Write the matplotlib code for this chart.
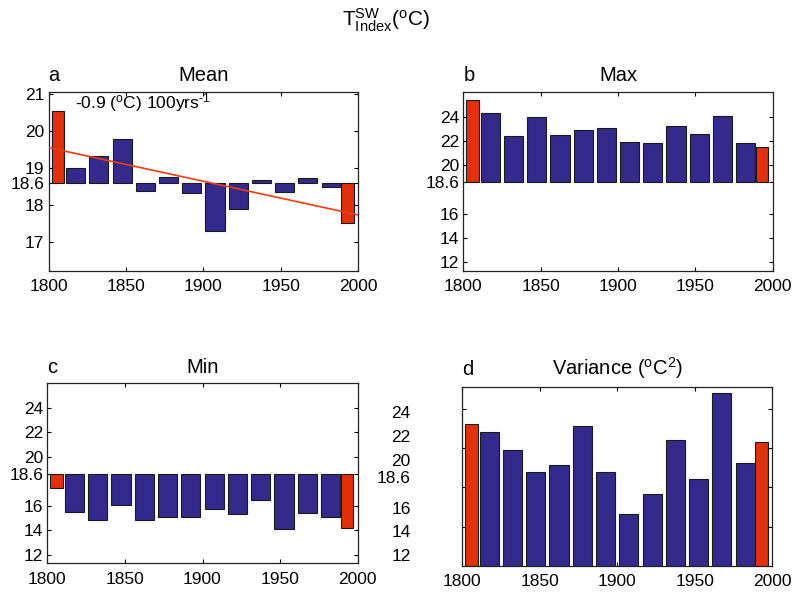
import matplotlib
matplotlib.use("Agg")
import matplotlib.pyplot as plt

plt.rcParams['font.family'] = ['Liberation Sans', 'DejaVu Sans']
plt.rcParams['mathtext.fontset'] = 'custom'
plt.rcParams['mathtext.rm'] = 'Liberation Sans'
plt.rcParams['mathtext.it'] = 'Liberation Sans:italic'
plt.rcParams['mathtext.bf'] = 'Liberation Sans:bold'

# ---- data ----
blue_years = [1817.5, 1832.5, 1847.5, 1862.5, 1877.5, 1892.5,
              1907.5, 1922.5, 1937.5, 1952.5, 1967.5, 1982.5]
red_years = [1806, 1993]

mean_blue = [19.00, 19.33, 19.78, 18.36, 18.75, 18.33,
             17.28, 17.88, 18.66, 18.35, 18.72, 18.49]
mean_red = [20.53, 17.51]

max_blue = [24.30, 22.38, 23.94, 22.52, 22.87, 23.10,
            21.90, 21.84, 23.23, 22.58, 24.05, 21.84]
max_red = [25.37, 21.51]

min_blue = [15.48, 14.83, 16.08, 14.80, 15.10, 15.10,
            15.73, 15.29, 16.46, 14.07, 15.42, 15.05]
min_red = [17.44, 14.15]

var_blue = [3.41, 2.95, 2.39, 2.56, 3.55, 2.39,
            1.31, 1.83, 3.20, 2.20, 4.39, 2.61]
var_red = [3.61, 3.16]

baseline = 18.6
trend_start_year = 1800
trend_end_year = 2000
trend_start_value = 19.55
trend_slope_per_year = -0.00915

temp_ticks = [12, 14, 16, 18.6, 20, 22, 24]
temp_ticklabels = ['12', '14', '16', '18.6', '20', '22', '24']
mean_ticks = [17, 18, 18.6, 19, 20, 21]
mean_ticklabels = ['17', '18', '18.6', '19', '20', '21']
var_ticks = [1, 2, 3, 4]
x_ticks = [1800, 1850, 1900, 1950, 2000]

BLUE = '#332a8c'
RED = '#e0300c'
EDGE = '#1a1a1a'
W, H = 798, 594
TICK_FS = 12.5
TITLE_FS = 14.5

fig = plt.figure(figsize=(W / 100, H / 100), dpi=100)


def make_ax(left, top, right, bottom):
    return fig.add_axes([left / W, 1 - bottom / H, (right - left) / W, (bottom - top) / H])


def style(ax, ylim, yticks, ylabels):
    ax.set_xlim(1800, 2000)
    ax.set_ylim(*ylim)
    ax.set_xticks(x_ticks)
    ax.set_xticklabels([str(t) for t in x_ticks])
    ax.set_yticks(yticks)
    if ylabels is None:
        ax.set_yticklabels([])
    else:
        ax.set_yticklabels(ylabels)
    ax.tick_params(direction='in', length=3, width=0.8, labelsize=TICK_FS,
                   top=True, right=True)
    ax.tick_params(axis='x', pad=6)
    ax.tick_params(axis='y', pad=3)
    for s in ax.spines.values():
        s.set_linewidth(0.9)
        s.set_color('#222222')


def bars(ax, blue, red, bottom):
    ax.bar(blue_years, [v - bottom for v in blue], width=12.3, bottom=bottom,
           color=BLUE, edgecolor=EDGE, linewidth=0.8, zorder=2)
    ax.bar(red_years, [v - bottom for v in red], width=8, bottom=bottom,
           color=RED, edgecolor=EDGE, linewidth=0.8, zorder=2)


def titles(ax, letter, title, y=1.065):
    ax.text(0.0, y, letter, transform=ax.transAxes, fontsize=TITLE_FS,
            ha='left', va='baseline')
    ax.text(0.5, y, title, transform=ax.transAxes, fontsize=TITLE_FS,
            ha='center', va='baseline')


# panel a
axa = make_ax(48.5, 92.3, 358.3, 271)
bars(axa, mean_blue, mean_red, baseline)
tx = [trend_start_year, trend_end_year]
ty = [trend_start_value, trend_start_value + trend_slope_per_year * (trend_end_year - trend_start_year)]
axa.plot(tx, ty, color='#f03a12', lw=1.2, zorder=3)
style(axa, (16.2, 21.05), mean_ticks, mean_ticklabels)
titles(axa, 'a', 'Mean')
axa.text(0.0855, 0.94, r'-0.9 ($^{\rm o}$C) 100yrs$^{\text{-1}}$', transform=axa.transAxes,
         fontsize=12.5, ha='left', va='center')

# panel b
axb = make_ax(463.3, 92.3, 772.7, 271)
bars(axb, max_blue, max_red, baseline)
style(axb, (11.3, 26.0), temp_ticks, temp_ticklabels)
titles(axb, 'b', 'Max')

# panel c
axc = make_ax(47.3, 383.3, 357.7, 563.3)
bars(axc, min_blue, min_red, baseline)
style(axc, (11.3, 26.0), temp_ticks, temp_ticklabels)
titles(axc, 'c', 'Min', y=1.058)

# panel d
axd = make_ax(462, 386.7, 772.3, 566)
bars(axd, var_blue, var_red, 0)
style(axd, (0, 4.56), var_ticks, None)
titles(axd, 'd', r'Variance ($^{\rm o}$C$^{\rm 2}$)')

# detached temperature labels left of panel d
axg = make_ax(415, 386.7, 420, 566)
axg.set_ylim(11.1, 26.15)
axg.set_yticks(temp_ticks)
axg.set_yticklabels(temp_ticklabels)
axg.set_xticks([])
axg.tick_params(axis='y', length=0, labelsize=TICK_FS, pad=3)
axg.patch.set_visible(False)
for s in axg.spines.values():
    s.set_visible(False)

fig.text(386 / W, 1 - 20 / H, r'T$^{\rm SW}_{\rm Index}$($^{\rm o}$C)', fontsize=15,
         ha='center', va='center')

fig.savefig('out.png', dpi=100)
